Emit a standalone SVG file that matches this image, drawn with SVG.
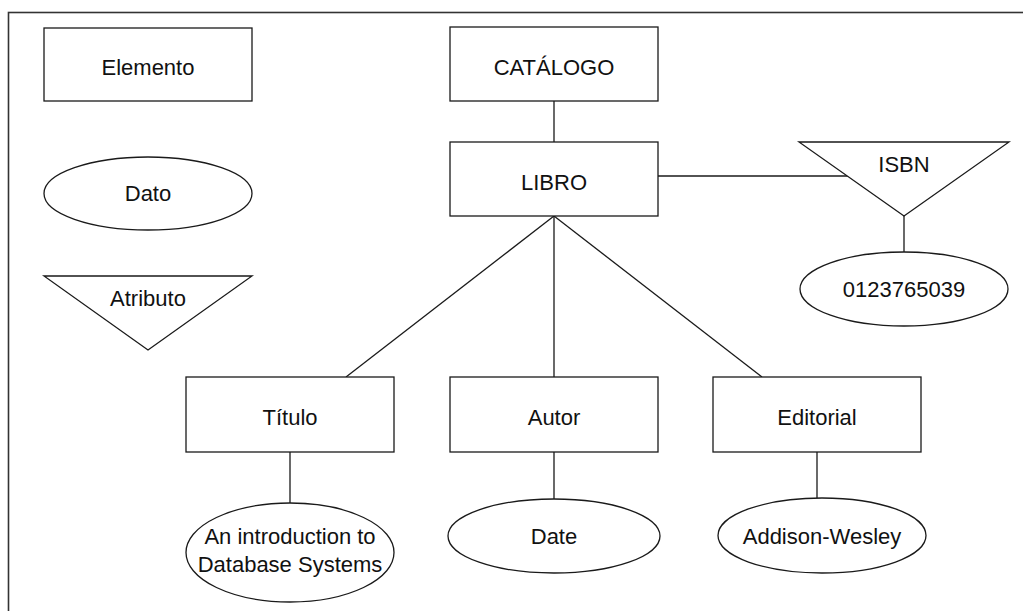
<svg xmlns="http://www.w3.org/2000/svg" width="1023" height="611" viewBox="0 0 1023 611">
  <style>
    .shape { fill: #ffffff; stroke: #1a1a1a; stroke-width: 1.3; }
    .edge { fill: none; stroke: #1a1a1a; stroke-width: 1.3; }
    .frame { fill: none; stroke: #333333; stroke-width: 1.6; }
    text { font-family: "Liberation Sans", Arial, Helvetica, sans-serif; font-size: 22px; fill: #111111; text-anchor: middle; }
  </style>
  <rect width="1023" height="611" fill="#ffffff"/>
  <!-- outer frame, open to the right and bottom -->
  <rect class="frame" x="8.5" y="12.5" width="1100" height="700"/>

  <!-- connectors -->
  <g id="connectors">
    <line class="edge" x1="554" y1="101" x2="554" y2="142"/>
    <line class="edge" x1="658" y1="176" x2="848" y2="176"/>
    <line class="edge" x1="904" y1="216" x2="904" y2="252"/>
    <line class="edge" x1="554" y1="216" x2="346" y2="377"/>
    <line class="edge" x1="554" y1="216" x2="554" y2="377"/>
    <line class="edge" x1="554" y1="216" x2="762" y2="377"/>
    <line class="edge" x1="290" y1="452" x2="290" y2="503"/>
    <line class="edge" x1="554" y1="452" x2="554" y2="499"/>
    <line class="edge" x1="817" y1="452" x2="817" y2="498"/>
  </g>

  <!-- legend -->
  <g id="legend-elemento">
    <rect class="shape" x="44" y="28" width="208" height="73"/>
    <text x="148" y="75">Elemento</text>
  </g>
  <g id="legend-dato">
    <ellipse class="shape" cx="148" cy="193.5" rx="104" ry="36.5"/>
    <text x="148" y="201">Dato</text>
  </g>
  <g id="legend-atributo">
    <polygon class="shape" points="44,276 252,276 148,350"/>
    <text x="148" y="306">Atributo</text>
  </g>

  <!-- tree -->
  <g id="catalogo">
    <rect class="shape" x="450" y="27" width="208" height="74"/>
    <text x="554" y="75">CATÁLOGO</text>
  </g>
  <g id="libro">
    <rect class="shape" x="450" y="142" width="208" height="74"/>
    <text x="554" y="190">LIBRO</text>
  </g>
  <g id="isbn">
    <polygon class="shape" points="799,142 1009,142 904,216"/>
    <text x="904" y="172">ISBN</text>
  </g>
  <g id="isbn-valor">
    <ellipse class="shape" cx="904" cy="289" rx="104" ry="37"/>
    <text x="904" y="297">0123765039</text>
  </g>
  <g id="titulo">
    <rect class="shape" x="186" y="377" width="208" height="75"/>
    <text x="290" y="425">Título</text>
  </g>
  <g id="titulo-valor">
    <ellipse class="shape" cx="290" cy="552.5" rx="104" ry="49.5"/>
    <text x="290" y="544">An introduction to</text>
    <text x="290" y="572">Database Systems</text>
  </g>
  <g id="autor">
    <rect class="shape" x="450" y="377" width="208" height="75"/>
    <text x="554" y="425">Autor</text>
  </g>
  <g id="autor-valor">
    <ellipse class="shape" cx="554" cy="536" rx="106" ry="37"/>
    <text x="554" y="544">Date</text>
  </g>
  <g id="editorial">
    <rect class="shape" x="713" y="377" width="208" height="75"/>
    <text x="817" y="425">Editorial</text>
  </g>
  <g id="editorial-valor">
    <ellipse class="shape" cx="822" cy="535.5" rx="104" ry="37.5"/>
    <text x="822" y="544">Addison-Wesley</text>
  </g>
</svg>
